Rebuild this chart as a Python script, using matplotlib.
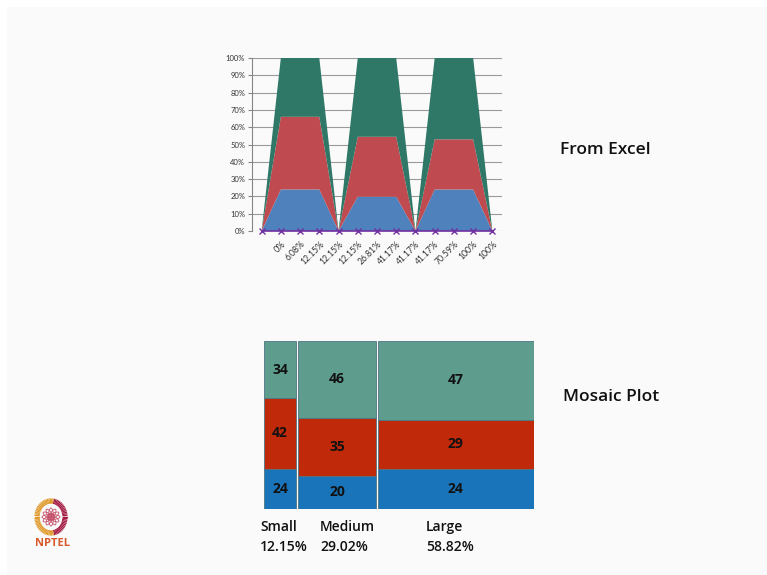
import numpy as np
import matplotlib
matplotlib.use("Agg")
import matplotlib.pyplot as plt
from matplotlib.patches import Rectangle, Ellipse

plt.rcParams['font.family'] = ['Open Sans', 'DejaVu Sans']

# ---- data ----
sizes = ["Small", "Medium", "Large"]
size_share = [12.15, 29.02, 58.82]          # share of all items in each size (%)
blue_counts = [24, 20, 24]
red_counts = [42, 35, 29]
green_counts = [34, 46, 47]

# Excel 100% stacked area version of the same table
excel_labels = ["", "0%", "6.08%", "12.15%", "12.15%", "12.15%", "26.81%",
                "41.17%", "41.17%", "41.17%", "70.59%", "100%", "100%"]
excel_blue = [0, 24, 24, 24, 0, 20, 20, 20, 0, 24, 24, 24, 0]
excel_red = [0, 42, 42, 42, 0, 35, 35, 35, 0, 29, 29, 29, 0]
excel_green = [0, 34, 34, 34, 0, 46, 46, 46, 0, 47, 47, 47, 0]
excel_marker = [0] * 13

W, H = 767, 575
fig = plt.figure(figsize=(W / 100, H / 100), dpi=100)
fig.patch.set_facecolor("white")


def px_axes(x0, y0, x1, y1, **kw):
    return fig.add_axes([x0 / W, 1 - y1 / H, (x1 - x0) / W, (y1 - y0) / H], **kw)


# slide background
bg = px_axes(0, 0, W, H)
bg.set_xlim(0, W); bg.set_ylim(H, 0); bg.axis("off")
bg.add_patch(Rectangle((7, 7), W - 7, H - 7, facecolor="#fafafa", edgecolor="none"))

# ---- Excel stacked area chart ----
ax = px_axes(252, 58, 502, 231)
x = np.arange(len(excel_labels))
b = np.array(excel_blue, float)
r = np.array(excel_red, float)
g = np.array(excel_green, float)
tot = b + r + g
safe = np.where(tot == 0, 1, tot)
ax.stackplot(x, b / safe * 100, r / safe * 100, g / safe * 100,
             colors=["#4f81bd", "#bf4b50", "#2f7766"], linewidth=0, zorder=2)
ax.plot(x, excel_marker, color="#7030a0", lw=1.2, marker="x", ms=4.5,
        mew=1.0, clip_on=False, zorder=4)
ax.set_xlim(-0.5, len(x) - 0.5)
ax.set_ylim(0, 100)
ax.set_yticks(np.arange(0, 101, 10))
ax.set_yticklabels([f"{v}%" for v in range(0, 101, 10)], fontsize=5.5,
                   color="#333333", family=["Lato", "DejaVu Sans"])
ax.yaxis.grid(True, color="#9a9a9a", lw=0.8, zorder=0)
ax.set_axisbelow(True)
ax.set_xticks(x)
ax.set_xticklabels(excel_labels, rotation=45, ha="right", rotation_mode="anchor",
                   fontsize=6.2, color="#333333", family=["Lato", "DejaVu Sans"])
ax.tick_params(axis="x", length=0, pad=6)
ax.tick_params(axis="y", length=3, width=0.8, color="#868686", pad=2)
for s in ["top", "right", "bottom"]:
    ax.spines[s].set_visible(False)
ax.spines["left"].set_color("#868686")
ax.spines["left"].set_linewidth(0.8)
ax.set_facecolor("none")

fig.text(605 / W, 1 - 150 / H, "From Excel", fontsize=12.5, fontweight="semibold",
         ha="center", va="center", color="#111111")

# ---- mosaic plot ----
mx = px_axes(264, 341, 534, 509)
mx.set_xlim(0, 1); mx.set_ylim(0, 1); mx.axis("off")
gap = 0.008
widths = np.array(size_share) / sum(size_share)
avail = 1 - gap * (len(sizes) - 1)
left = 0.0
for i in range(len(sizes)):
    w = widths[i] * avail
    col = [blue_counts[i], red_counts[i], green_counts[i]]
    s = sum(col)
    bottom = 0.0
    for val, c in zip(col, ["#1a74ba", "#c0290a", "#5e9d8e"]):
        h = val / s
        mx.add_patch(Rectangle((left, bottom), w, h, facecolor=c,
                               edgecolor="#4d7583", lw=0.6))
        mx.text(left + w / 2, bottom + h / 2, str(val), ha="center", va="center",
                fontsize=10, fontweight="bold", color="#111111")
        bottom += h
    left += w + gap

label_x = [260, 320, 426]
for lx, name, share in zip(label_x, sizes, size_share):
    fig.text(lx / W, 1 - 527 / H, name, fontsize=10, fontweight="semibold",
             ha="left", va="center", color="#111111")
    fig.text(lx / W, 1 - 547 / H, f"{share:.2f}%", fontsize=10, fontweight="semibold",
             ha="left", va="center", color="#111111")

fig.text(611 / W, 1 - 397 / H, "Mosaic Plot", fontsize=12.5, fontweight="semibold",
         ha="center", va="center", color="#111111")

# ---- NPTEL logo ----
lg = px_axes(25, 490, 80, 560)
lg.set_xlim(25, 80); lg.set_ylim(560, 490); lg.axis("off")
cx, cy = 51, 517
for t in np.linspace(0, 2 * np.pi, 70, endpoint=False):
    col = "#e09a2a" if np.cos(t) < 0.15 else "#a3173f"
    x0, y0 = cx + 12 * np.cos(t), cy + 14 * np.sin(t)
    x1, y1 = cx + 16 * np.cos(t), cy + 18 * np.sin(t)
    lg.plot([x0, x1], [y0, y1], color=col, lw=0.9)
for t in np.linspace(0, np.pi, 6, endpoint=False):
    lg.add_patch(Ellipse((cx, cy), 18, 5, angle=np.degrees(t), facecolor="none",
                         edgecolor="#c5506a", lw=0.6))
lg.add_patch(Ellipse((cx, cy), 4, 4, facecolor="#c5506a", edgecolor="none"))
lg.text(cx + 1, 543, "NPTEL", fontsize=8, fontweight="bold", color="#d9582a",
        ha="center", va="center")

fig.savefig("out.png", dpi=100, facecolor=fig.get_facecolor())
